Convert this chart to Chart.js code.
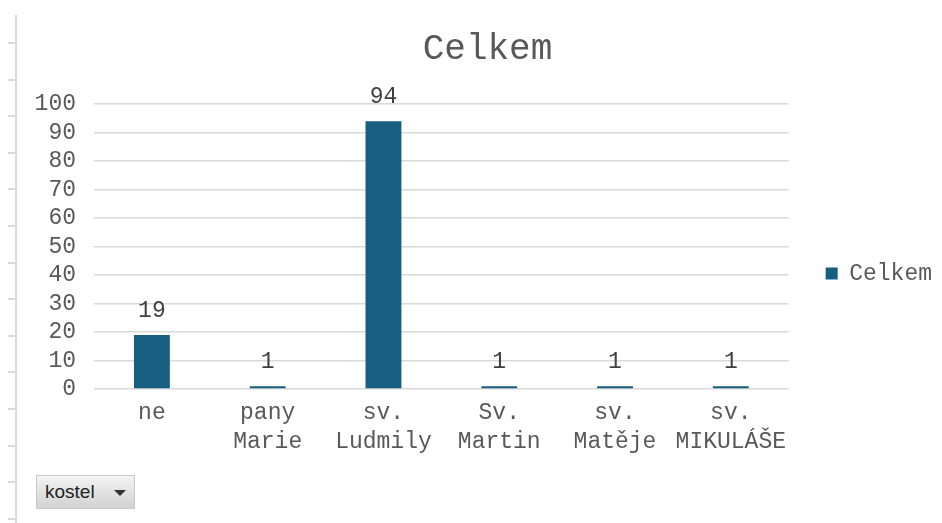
<!DOCTYPE html>
<html><head><meta charset="utf-8">
<script src="https://cdn.jsdelivr.net/npm/chart.js@4.4.1/dist/chart.umd.min.js"></script>
<style>
html,body{margin:0;padding:0;background:#fff;}
#wrap{position:relative;width:942px;height:523px;overflow:hidden;background:#fff;}
#c{position:absolute;left:0;top:0;}
.vline{position:absolute;left:15px;top:15px;width:2px;height:508px;background:#dadada;}
.tk{position:absolute;left:8px;width:8px;height:2px;background:#dadada;}
.btn{position:absolute;left:36px;top:475px;width:99px;height:34px;box-sizing:border-box;border:1px solid #c9c9c9;
 background:linear-gradient(#f3f3f3,#d2d2d2);font-family:"Liberation Sans",Arial,sans-serif;font-size:19px;color:#222;}
.btn span{position:absolute;left:8px;top:5px;}
.btn i{position:absolute;left:77px;top:14px;width:0;height:0;border-left:6px solid transparent;border-right:6px solid transparent;border-top:6px solid #333;}
</style>
</head><body>
<div id="wrap">
<canvas id="c" width="942" height="523"></canvas>
<div class="vline"></div>
<div id="ticks"></div>
<div class="btn"><span>kostel</span><i></i></div>
</div>
<script>
const categories = ["ne", ["pany","Marie"], ["sv.","Ludmily"], ["Sv.","Martin"], ["sv.","Matěje"], ["sv.","MIKULÁŠE"]];
const values = [19, 1, 94, 1, 1, 1];
const seriesName = "Celkem";
const yMin = 0, yMax = 100, yStep = 10;

// spreadsheet row marks on the left edge
(function(){
  const t = document.getElementById('ticks');
  for (let y = 42; y < 523; y += 36.6) {
    const d = document.createElement('div'); d.className = 'tk'; d.style.top = Math.round(y) + 'px'; t.appendChild(d);
  }
})();

const MONO = "'Liberation Mono', 'DejaVu Sans Mono', monospace";
const valueLabels = {
  id: 'valueLabels',
  afterDatasetsDraw(chart) {
    const ctx = chart.ctx;
    const meta = chart.getDatasetMeta(0);
    ctx.save();
    ctx.font = "23px " + MONO;
    ctx.fillStyle = '#404040';
    ctx.textAlign = 'center';
    ctx.textBaseline = 'alphabetic';
    meta.data.forEach((bar, i) => {
      ctx.fillText(String(values[i]), bar.x, bar.y - 18);
    });
    ctx.restore();
  }
};

// reserve a gap between the plot and the legend, and move the legend down a little
const LEGEND_GAP = 27, LEGEND_DY = 12;
const legendPlace = {
  id: 'legendPlace',
  afterInit(chart) {
    const lg = chart.legend;
    if (lg && !lg._wrapped) {
      const fit = lg.fit.bind(lg);
      lg.fit = function() { fit(); this.width += LEGEND_GAP; };
      lg._wrapped = true;
    }
  },
  afterLayout(chart) {
    const lg = chart.legend;
    lg.left += LEGEND_GAP; lg.top += LEGEND_DY; lg.bottom += LEGEND_DY;
  }
};

new Chart(document.getElementById('c'), {
  type: 'bar',
  data: {
    labels: categories,
    datasets: [{
      label: seriesName,
      data: values,
      backgroundColor: '#175e81',
      borderWidth: 0,
      barPercentage: 0.31,
      categoryPercentage: 1
    }]
  },
  options: {
    responsive: false,
    animation: false,
    events: [],
    layout: { padding: { left: 33, right: 0, top: 0, bottom: 0 } },
    plugins: {
      title: {
        display: true, text: 'Celkem', color: '#595959',
        font: { family: MONO, size: 36, weight: 'normal' },
        padding: { top: 28, bottom: 33 }
      },
      legend: {
        position: 'right',
        labels: {
          boxWidth: 12, boxHeight: 12, color: '#595959',
          font: { family: MONO, size: 23 }
        }
      },
      tooltip: { enabled: false }
    },
    scales: {
      y: {
        min: yMin, max: yMax,
        ticks: { stepSize: yStep, autoSkip: false, color: '#595959', font: { family: MONO, size: 23 }, padding: 18 },
        grid: { color: '#d9d9d9', drawTicks: false, lineWidth: 1.5 },
        border: { display: false },
        afterFit(s) { s.width = 61; }
      },
      x: {
        ticks: { color: '#595959', font: { family: MONO, size: 23, lineHeight: 1.25 }, padding: 10, maxRotation: 0, autoSkip: false },
        grid: { display: false, drawTicks: false },
        border: { display: false },
        afterFit(s) { s.height = 134; }
      }
    }
  },
  plugins: [valueLabels, legendPlace]
});
</script>
</body></html>
